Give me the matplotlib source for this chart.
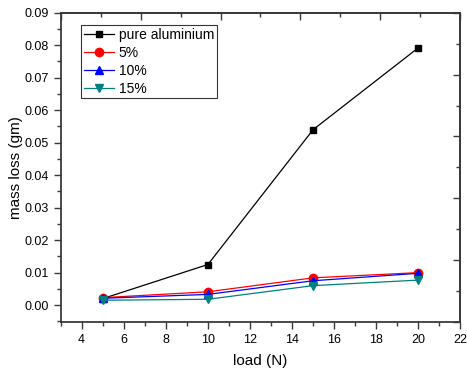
import matplotlib
matplotlib.use('Agg')
import matplotlib.pyplot as plt
from matplotlib.ticker import MultipleLocator, FormatStrFormatter

plt.rcParams['font.family'] = ['Liberation Sans', 'DejaVu Sans']

load = [5, 10, 15, 20]
pure = [0.0020, 0.0125, 0.0540, 0.0792]
p5 = [0.0023, 0.0041, 0.0084, 0.0100]
p10 = [0.0021, 0.0033, 0.0075, 0.0098]
p15 = [0.0015, 0.0018, 0.0060, 0.0077]

xmin, xmax = 3, 22
ymin, ymax = -0.0052, 0.09

fig = plt.figure(figsize=(4.67, 3.74), dpi=100)
ax = fig.add_axes([0.1298, 0.139, 0.856, 0.827])

ax.plot(load, pure, color='black', marker='s', ms=5, lw=0.9, label='pure aluminium')
ax.plot(load, p5, color='red', marker='o', ms=6, lw=0.9, label='5%')
ax.plot(load, p10, color='blue', marker='^', ms=6, lw=0.9, label='10%')
ax.plot(load, p15, color='#008080', marker='v', ms=6, lw=0.9, label='15%')

ax.set_xlim(xmin, xmax)
ax.set_ylim(ymin, ymax)
ax.xaxis.set_major_locator(MultipleLocator(2))
ax.xaxis.set_minor_locator(MultipleLocator(1))
ax.yaxis.set_major_locator(MultipleLocator(0.01))
ax.yaxis.set_minor_locator(MultipleLocator(0.005))
ax.yaxis.set_major_formatter(FormatStrFormatter('%.2f'))

axcol = '#3a3a3a'
ax.tick_params(which='both', direction='out', labelsize=9, width=1, color=axcol)
ax.tick_params(which='major', length=5)
ax.tick_params(which='minor', length=3)

# mirrored axes in Origin style: ticks on a 0..1 fraction scale
top = ax.secondary_xaxis('top', functions=(lambda x: (x - xmin) / (xmax - xmin),
                                            lambda f: f * (xmax - xmin) + xmin))
top.xaxis.set_major_locator(MultipleLocator(0.2))
top.xaxis.set_minor_locator(MultipleLocator(0.1))
top.tick_params(which='both', direction='in', labeltop=False, color=axcol, width=1)
top.tick_params(which='major', length=5)
top.tick_params(which='minor', length=3)
right = ax.secondary_yaxis('right', functions=(lambda y: (y - ymin) / (ymax - ymin),
                                               lambda f: f * (ymax - ymin) + ymin))
right.yaxis.set_major_locator(MultipleLocator(0.2))
right.yaxis.set_minor_locator(MultipleLocator(0.1))
right.tick_params(which='both', direction='in', labelright=False, color=axcol, width=1)
right.tick_params(which='major', length=5)
right.tick_params(which='minor', length=3)

for s in ax.spines.values():
    s.set_linewidth(1.3)
    s.set_color(axcol)
top.spines['top'].set_linewidth(1.3)
top.spines['top'].set_color(axcol)
right.spines['right'].set_linewidth(1.3)
right.spines['right'].set_color(axcol)

ax.set_xlabel('load (N)', fontsize=11, labelpad=6)
ax.set_ylabel('mass loss (gm)', fontsize=11, labelpad=1)

leg = ax.legend(loc='upper left', bbox_to_anchor=(0.051, 0.960), fontsize=10,
                frameon=True, fancybox=False, edgecolor='black', handlelength=2.2,
                borderpad=0.2, labelspacing=0.28, handletextpad=0.3, borderaxespad=0)
leg.get_frame().set_linewidth(0.8)

fig.savefig('out.png', dpi=100)
